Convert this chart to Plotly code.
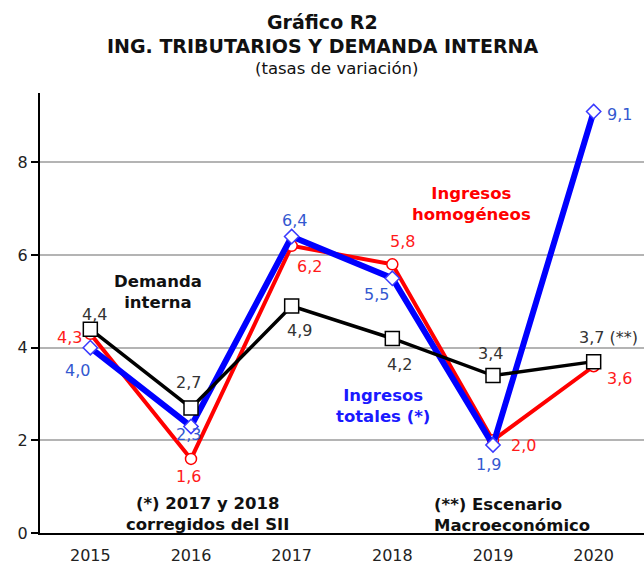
import plotly.graph_objects as go

years = ["2015", "2016", "2017", "2018", "2019", "2020"]
totales = [4.0, 2.3, 6.4, 5.5, 1.9, 9.1]
homogeneos = [4.3, 1.6, 6.2, 5.8, 2.0, 3.6]
demanda = [4.4, 2.7, 4.9, 4.2, 3.4, 3.7]
demanda_labels = ["4,4", "2,7", "4,9", "4,2", "3,4", "3,7 (**)"]

def fmt(v):
    return f"{v:.1f}".replace(".", ",")

FONT = "DejaVu Sans"

fig = go.Figure()
fig.add_trace(go.Scatter(
    x=years, y=homogeneos, mode="lines+markers",
    line=dict(color="#ff0000", width=4),
    marker=dict(symbol="circle", size=11, color="white", line=dict(color="#ff0000", width=1.5)),
    name="Ingresos homogéneos"))
fig.add_trace(go.Scatter(
    x=years, y=totales, mode="lines+markers",
    line=dict(color="#0000ff", width=6),
    marker=dict(symbol="diamond", size=11, color="white", line=dict(color="#3a3aff", width=1.5)),
    name="Ingresos totales"))
fig.add_trace(go.Scatter(
    x=years, y=demanda, mode="lines+markers",
    line=dict(color="#000000", width=3.5),
    marker=dict(symbol="square", size=14, color="white", line=dict(color="#000000", width=1.5)),
    name="Demanda interna"))

annotations = []
# label offsets (pixels: dx right, dy up)
off_tot = [(-13, -23), (-3, -8), (3, 16), (-16, -16), (-5, -19), (26, -3)]
off_hom = [(-21, -4), (-3, -18), (18, -21), (10, 23), (30, -5), (26, -12)]
off_dem = [(4, 15), (-3, 25), (8, -24), (7, -26), (-3, 22), (-17, 24)]

LBL = 16
for i, y in enumerate(years):
    annotations.append(dict(x=i, y=totales[i], text=fmt(totales[i]), showarrow=False,
                            xshift=off_tot[i][0], yshift=off_tot[i][1],
                            font=dict(family=FONT, size=LBL, color="#3358d0")))
    annotations.append(dict(x=i, y=homogeneos[i], text=fmt(homogeneos[i]), showarrow=False,
                            xshift=off_hom[i][0], yshift=off_hom[i][1],
                            font=dict(family=FONT, size=LBL, color="#ff1a1a")))
    a = dict(x=i, y=demanda[i], text=demanda_labels[i], showarrow=False,
             xshift=off_dem[i][0], yshift=off_dem[i][1],
             font=dict(family=FONT, size=LBL, color="#333333"))
    if i == 5:
        a["xanchor"] = "left"
    annotations.append(a)

def note(x, y, text, color, xanchor="center"):
    annotations.append(dict(x=x, y=y, text=text, showarrow=False, xanchor=xanchor,
                            align=xanchor if xanchor != "center" else "center",
                            font=dict(family=FONT, size=16.5, color=color)))

note(0.672, 5.21, "<b>Demanda<br>interna</b>", "#111111")
note(3.79, 7.10, "<b>Ingresos<br>homogéneos</b>", "#ff0000")
note(2.907, 2.75, "<b>Ingresos<br>totales (*)</b>", "#1a1aff")
note(1.159, 0.41, "<b>(*) 2017 y 2018<br>corregidos del SII</b>", "#111111")
note(3.394, 0.39, "<b>(**) Escenario<br>Macroeconómico</b>", "#111111", xanchor="left")

# titles (paper coords, from page pixel positions)
def title(py, text, size, px=322):
    annotations.append(dict(xref="paper", yref="paper", x=(px - 40) / 604, y=(535 - py) / 442,
                            text=text, showarrow=False, xanchor="center", yanchor="middle",
                            font=dict(family=FONT, size=size, color="#111111")))

title(22, "<b>Gráfico R2</b>", 19)
title(46, "<b>ING. TRIBUTARIOS Y DEMANDA INTERNA</b>", 19)
title(68, "(tasas de variación)", 16.5, px=336)

fig.update_layout(
    width=644, height=565,
    margin=dict(l=40, r=0, t=93, b=30),
    paper_bgcolor="white", plot_bgcolor="white",
    showlegend=False,
    annotations=annotations,
    xaxis=dict(type="category", range=[-0.5, 5.5], showgrid=False,
               showline=True, linecolor="#000000", linewidth=2,
               ticks="", ticklabelstandoff=7,
               tickfont=dict(family=FONT, size=16, color="#222222")),
    yaxis=dict(range=[0, 9.5], tickvals=[0, 2, 4, 6, 8], showgrid=True,
               gridcolor="#b4b4b4", gridwidth=1.5, zeroline=False,
               showline=True, linecolor="#000000", linewidth=2,
               ticks="outside", ticklen=7, tickcolor="#000000", tickwidth=1.5,
               tickfont=dict(family=FONT, size=16, color="#222222")),
)

fig.write_html(
    "out.html",
    config={"displayModeBar": False},
    post_script="document.body.style.margin='0';document.body.style.overflow='hidden';",
)
